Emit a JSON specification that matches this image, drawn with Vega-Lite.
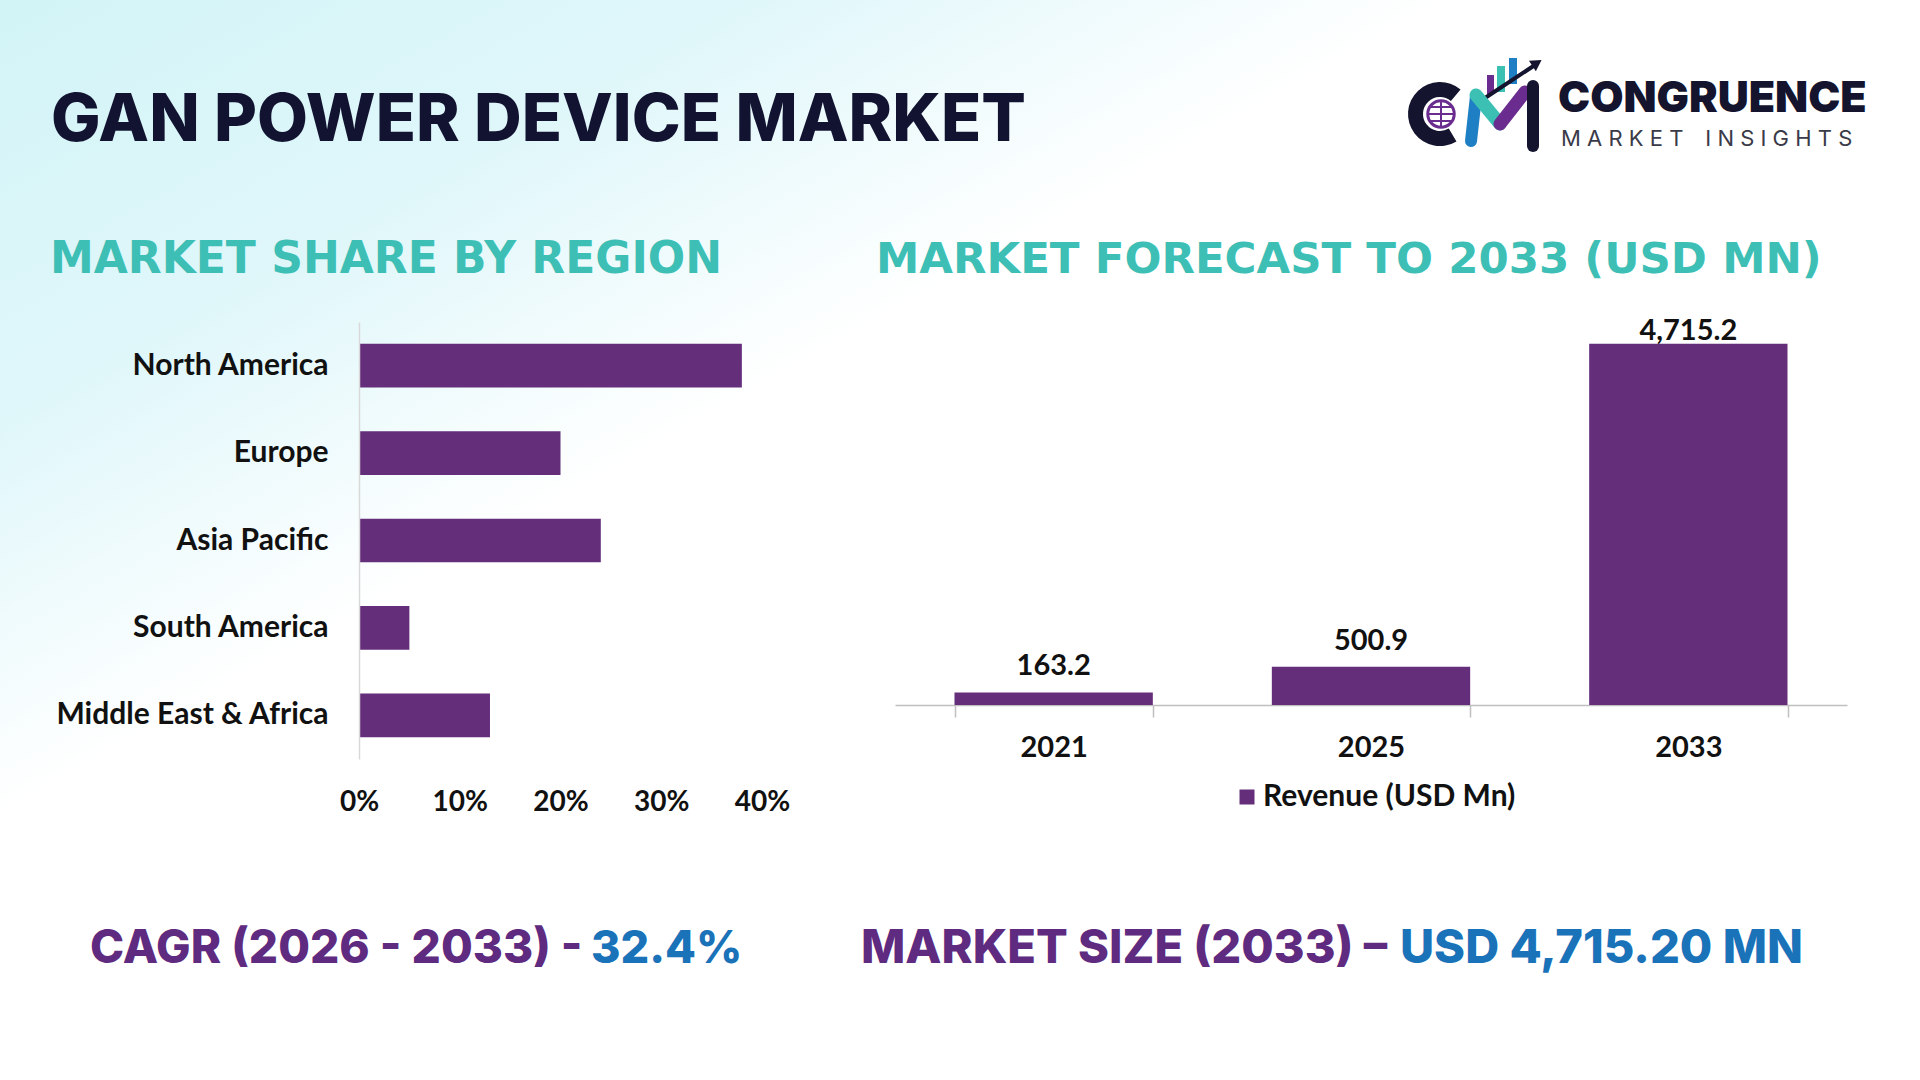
{
  "$schema": "https://vega.github.io/schema/vega-lite/v6.json",
  "padding": 0,
  "background": "#ffffff",
  "spacing": 133,
  "bounds": "flush",
  "config": {
    "view": {"stroke": null},
    "font": "Lato",
    "axis": {"labelFont": "Lato", "labelFontWeight": "bold", "labelColor": "#111111", "title": null, "grid": false, "zindex": 1}
  },
  "hconcat": [
    {
      "width": 403,
      "height": 437,
      "layer": [
        {
          "data": {"values": [{}]},
          "mark": {
            "type": "rect",
            "fill": {
              "gradient": "linear",
              "x1": 0, "y1": 0, "x2": 1, "y2": 1,
              "stops": [
                {"offset": 0, "color": "#d2f4f7"},
                {"offset": 0.2, "color": "#e0f7fa"},
                {"offset": 0.38, "color": "#ffffff"},
                {"offset": 1, "color": "#ffffff"}
              ]
            },
            "strokeWidth": 0,
            "zindex": 0
          },
          "encoding": {"x": {"value": -359}, "x2": {"value": 1561}, "y": {"value": -322}, "y2": {"value": 758}}
        },
        {
          "data": {"values": [
            {"region": "North America", "share": 38},
            {"region": "Europe", "share": 20},
            {"region": "Asia Pacific", "share": 24},
            {"region": "South America", "share": 5},
            {"region": "Middle East & Africa", "share": 13}
          ]},
          "mark": {"type": "bar", "color": "#642e7b"},
          "encoding": {
            "y": {
              "field": "region", "type": "nominal", "sort": null,
              "scale": {"paddingInner": 0.5, "paddingOuter": 0.25},
              "axis": {"zindex": 2, "labelFontSize": 30, "labelPadding": 31, "labelLimit": 400, "ticks": false, "domainColor": "#d9d9d9", "domainWidth": 1.5}
            },
            "x": {
              "field": "share", "type": "quantitative",
              "scale": {"domain": [0, 40]},
              "axis": {"zindex": 2, "values": [0, 10, 20, 30, 40], "labelExpr": "datum.value + '%'", "labelFontSize": 28, "labelPadding": 29, "ticks": false, "domain": false, "labelFlush": false, "labelOverlap": false}
            }
          }
        },
        {
          "data": {"values": [{}]},
          "mark": {"type": "text", "text": "GAN POWER DEVICE MARKET", "font": "Inter", "fontWeight": 800, "fontSize": 66, "color": "#121331", "align": "left", "baseline": "alphabetic"},
          "encoding": {"x": {"value": -308}, "y": {"value": -181}}
        },
        {
          "data": {"values": [{}]},
          "mark": {"type": "text", "text": "MARKET SHARE BY REGION", "font": "DejaVu Sans", "fontWeight": "bold", "fontSize": 44, "color": "#3ebfb5", "align": "left", "baseline": "alphabetic"},
          "encoding": {"x": {"value": -309}, "y": {"value": -49}}
        },
        {
          "data": {"values": [{}]},
          "mark": {"type": "text", "text": "CAGR (2026 - 2033) -", "font": "Inter", "fontWeight": 800, "fontSize": 46, "color": "#5f2b80", "align": "left", "baseline": "alphabetic"},
          "encoding": {"x": {"value": -269}, "y": {"value": 641}}
        },
        {
          "data": {"values": [{}]},
          "mark": {"type": "text", "text": "32.4%", "font": "Inter", "fontWeight": 800, "fontSize": 45, "color": "#1a72b9", "align": "left", "baseline": "alphabetic"},
          "encoding": {"x": {"value": 232}, "y": {"value": 641}}
        }
      ]
    },
    {
      "width": 952,
      "height": 383,
      "layer": [
        {
          "data": {"values": [
            {"year": "2021", "revenue": 163.2, "series": "Revenue (USD Mn)"},
            {"year": "2025", "revenue": 500.9, "series": "Revenue (USD Mn)"},
            {"year": "2033", "revenue": 4715.2, "series": "Revenue (USD Mn)"}
          ]},
          "encoding": {
            "x": {
              "field": "year", "type": "ordinal",
              "scale": {"paddingInner": 0.375, "paddingOuter": 0.1875},
              "axis": {"tickBand": "extent", "tickSize": 12, "tickColor": "#bfbfbf", "domainColor": "#bfbfbf", "domainWidth": 1.5, "tickWidth": 1.5, "labelAngle": 0, "labelFontSize": 29, "labelPadding": 16}
            },
            "y": {"field": "revenue", "type": "quantitative", "scale": {"domain": [0, 5000]}, "axis": null}
          },
          "layer": [
            {
              "mark": {"type": "bar"},
              "encoding": {
                "color": {
                  "field": "series", "type": "nominal",
                  "scale": {"range": ["#642e7b"]},
                  "legend": {"orient": "none", "legendX": 873, "legendY": 460, "title": null, "symbolType": "square", "symbolSize": 225, "symbolStrokeWidth": 0, "labelFont": "Lato", "labelFontSize": 30, "labelFontWeight": "bold", "labelColor": "#111111", "labelOffset": 1, "labelLimit": 500, "padding": 0}
                }
              }
            },
            {
              "transform": [{"filter": "datum.revenue < 4000"}],
              "mark": {"type": "text", "font": "Lato", "fontWeight": "bold", "fontSize": 29, "color": "#111111", "baseline": "alphabetic", "dy": -17},
              "encoding": {"text": {"field": "revenue", "type": "quantitative", "format": ",.1f"}}
            },
            {
              "transform": [{"filter": "datum.revenue >= 4000"}],
              "mark": {"type": "text", "font": "Lato", "fontWeight": "bold", "fontSize": 29, "color": "#111111", "baseline": "alphabetic", "dy": -4},
              "encoding": {"text": {"field": "revenue", "type": "quantitative", "format": ",.1f"}}
            }
          ]
        },
        {
          "data": {"values": [{}]},
          "mark": {"type": "text", "text": "MARKET FORECAST TO 2033 (USD MN)", "font": "DejaVu Sans", "fontWeight": "bold", "fontSize": 43.5, "color": "#3ebfb5", "align": "left", "baseline": "alphabetic"},
          "encoding": {"x": {"value": -19}, "y": {"value": -49}}
        },
        {
          "data": {"values": [{}]},
          "mark": {"type": "text", "text": "MARKET SIZE (2033) –", "font": "Inter", "fontWeight": 800, "fontSize": 47, "color": "#5f2b80", "align": "left", "baseline": "alphabetic"},
          "encoding": {"x": {"value": -34}, "y": {"value": 641}}
        },
        {
          "data": {"values": [{}]},
          "mark": {"type": "text", "text": "USD 4,715.20 MN", "font": "Inter", "fontWeight": 800, "fontSize": 47, "color": "#1a72b9", "align": "right", "baseline": "alphabetic"},
          "encoding": {"x": {"value": 908}, "y": {"value": 641}}
        },
        {
          "data": {"values": [{}]},
          "mark": {"type": "text", "text": "CONGRUENCE", "font": "Inter", "fontWeight": 900, "fontSize": 43, "color": "#14142e", "align": "left", "baseline": "alphabetic"},
          "encoding": {"x": {"value": 663}, "y": {"value": -210}}
        },
        {
          "data": {"values": [{}]},
          "mark": {"type": "text", "text": "M A R K E T\u2002\u2002I N S I G H T S", "font": "Inter", "fontWeight": 400, "fontSize": 22, "color": "#3a3a48", "align": "left", "baseline": "alphabetic"},
          "encoding": {"x": {"value": 666}, "y": {"value": -176}}
        },
        {
          "data": {"values": [{}]},
          "mark": {"type": "arc", "theta": 2.6, "theta2": 6.98, "innerRadius": 17, "outerRadius": 32, "color": "#14142e"},
          "encoding": {"x": {"value": 545}, "y": {"value": -208}}
        },
        {
          "data": {"values": [{}]},
          "mark": {"type": "point", "shape": "circle", "size": 700, "filled": true, "fill": "#ffffff", "stroke": "#6a2c8e", "strokeWidth": 3, "opacity": 1},
          "encoding": {"x": {"value": 546}, "y": {"value": -208}}
        },
        {
          "data": {"values": [{}]},
          "mark": {"type": "rule", "stroke": "#6a2c8e", "strokeWidth": 2},
          "encoding": {"x": {"value": 533}, "x2": {"value": 559}, "y": {"value": -208}, "y2": {"value": -208}}
        },
        {
          "data": {"values": [{}]},
          "mark": {"type": "rule", "stroke": "#6a2c8e", "strokeWidth": 2},
          "encoding": {"x": {"value": 546}, "x2": {"value": 546}, "y": {"value": -221}, "y2": {"value": -195}}
        },
        {
          "data": {"values": [{}]},
          "mark": {"type": "rule", "stroke": "#6a2c8e", "strokeWidth": 2},
          "encoding": {"x": {"value": 536}, "x2": {"value": 556}, "y": {"value": -215}, "y2": {"value": -215}}
        },
        {
          "data": {"values": [{}]},
          "mark": {"type": "rule", "stroke": "#6a2c8e", "strokeWidth": 2},
          "encoding": {"x": {"value": 536}, "x2": {"value": 556}, "y": {"value": -201}, "y2": {"value": -201}}
        },
        {
          "data": {"values": [{}]},
          "mark": {"type": "rect", "color": "#6a2c8e"},
          "encoding": {"x": {"value": 592}, "x2": {"value": 599}, "y": {"value": -247}, "y2": {"value": -228}}
        },
        {
          "data": {"values": [{}]},
          "mark": {"type": "rect", "color": "#3cc0b4"},
          "encoding": {"x": {"value": 602}, "x2": {"value": 610}, "y": {"value": -256}, "y2": {"value": -230}}
        },
        {
          "data": {"values": [{}]},
          "mark": {"type": "rect", "color": "#1f7fc4"},
          "encoding": {"x": {"value": 614}, "x2": {"value": 622}, "y": {"value": -264}, "y2": {"value": -238}}
        },
        {
          "data": {"values": [{}]},
          "mark": {"type": "rule", "stroke": "#14142e", "strokeWidth": 4, "strokeCap": "round"},
          "encoding": {"x": {"value": 590}, "x2": {"value": 640}, "y": {"value": -224}, "y2": {"value": -257}}
        },
        {
          "data": {"values": [{}]},
          "mark": {"type": "point", "shape": "triangle-up", "size": 160, "filled": true, "color": "#14142e", "angle": 57, "opacity": 1},
          "encoding": {"x": {"value": 642}, "y": {"value": -259}}
        },
        {
          "data": {"values": [{}]},
          "mark": {"type": "rule", "stroke": "#1f7fc4", "strokeWidth": 12, "strokeCap": "round"},
          "encoding": {"x": {"value": 576}, "x2": {"value": 581}, "y": {"value": -181}, "y2": {"value": -226}}
        },
        {
          "data": {"values": [{}]},
          "mark": {"type": "rule", "stroke": "#3cc0b4", "strokeWidth": 13, "strokeCap": "round"},
          "encoding": {"x": {"value": 581}, "x2": {"value": 605}, "y": {"value": -227}, "y2": {"value": -198}}
        },
        {
          "data": {"values": [{}]},
          "mark": {"type": "rule", "stroke": "#6a2c8e", "strokeWidth": 13, "strokeCap": "round"},
          "encoding": {"x": {"value": 605}, "x2": {"value": 630}, "y": {"value": -198}, "y2": {"value": -230}}
        },
        {
          "data": {"values": [{}]},
          "mark": {"type": "rule", "stroke": "#14142e", "strokeWidth": 12, "strokeCap": "round"},
          "encoding": {"x": {"value": 638}, "x2": {"value": 638}, "y": {"value": -236}, "y2": {"value": -176}}
        }
      ]
    }
  ]
}
